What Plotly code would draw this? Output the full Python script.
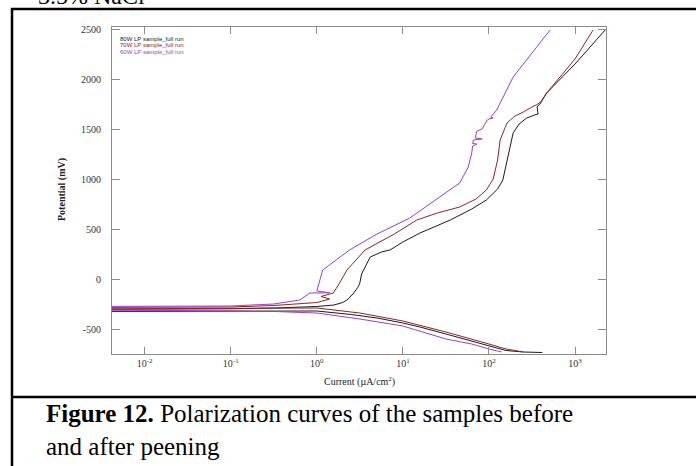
import plotly.graph_objects as go

# ---------------- data (current in uA/cm2, potential in mV) ----------------
series_names = ["80W LP sample_full run", "70W LP sample_full run", "60W LP sample_full run"]
series_colors = ["#1a1a1a", "#8e2424", "#9b3fc4"]

# 80W LP : cathodic branch (right -> left) then anodic branch (left -> right/up)
i80 = [417, 251, 158, 100, 63.1, 31.6, 15.8, 10.0, 5.01, 2.51, 1.0, 0.316, 0.1, 0.01, 0.001,
       0.001, 0.01, 0.1, 0.316, 1.0, 1.58, 2.0, 2.24, 2.63, 3.02, 3.16, 3.31, 3.55, 4.17, 5.62,
       7.08, 10.0, 15.8, 35.5, 63.1, 93.3, 126, 145, 162, 178, 191, 224, 275, 339, 372, 363,
       398, 468, 1000, 2240]
e80 = [-735, -730, -715, -670, -620, -550, -480, -440, -390, -355, -320, -322, -323, -325, -325,
       -305, -303, -298, -290, -275, -260, -235, -210, -150, -80, -40, 50, 100, 220, 270,
       290, 370, 460, 590, 700, 790, 900, 990, 1190, 1350, 1460, 1550, 1610, 1640, 1650, 1720,
       1760, 1860, 2150, 2490]

# 70W LP
i70 = [251, 158, 100, 63.1, 31.6, 10.0, 3.16, 1.0, 0.316, 0.1, 0.01, 0.001,
       0.001, 0.01, 0.1, 0.316, 1.0, 1.41, 1.12, 1.55, 1.78, 2.24, 2.82, 3.63, 7.94, 14.5,
       25.1, 45.7, 70.8, 93.3, 112, 126, 135, 162, 200, 251, 316, 363, 398, 468, 1000, 1620]
e70 = [-730, -700, -650, -600, -530, -420, -340, -290, -292, -295, -298, -300,
       -285, -283, -280, -265, -235, -200, -175, -140, -60, 90, 190, 290, 450, 590,
       660, 720, 800, 890, 1000, 1190, 1390, 1560, 1630, 1670, 1720, 1745, 1770, 1860, 2200, 2490]

# 60W LP
i60 = [141, 100, 63.1, 31.6, 10.0, 3.16, 1.0, 0.316, 0.1, 0.01, 0.001,
       0.001, 0.01, 0.1, 0.316, 0.631, 0.832, 1.41, 1.0, 1.17, 2.40, 5.01, 12.0, 22.4, 45.7,
       57.5, 63.1, 64.6, 72.4, 64.6, 66.1, 83.2, 69.2, 72.4, 83.2, 95.5, 100, 112, 105, 123,
       191, 513]
e60 = [-730, -700, -650, -600, -470, -400, -340, -325, -318, -312, -310,
       -275, -273, -270, -250, -210, -140, -138, -120, 90, 290, 450, 610, 770, 960,
       1120, 1260, 1330, 1350, 1355, 1390, 1400, 1410, 1480, 1500, 1590, 1600, 1610, 1620, 1690,
       2020, 2490]

currents = [i80, i70, i60]
potentials = [e80, e70, e60]

y_tickvals = [-500, 0, 500, 1000, 1500, 2000, 2500]
y_ticktext = ["-500", "0", "500", "1000", "1500", "2000", "2500"]
x_tickvals = [0.01, 0.1, 1, 10, 100, 1000]
x_ticktext = ["10<sup>-2</sup>", "10<sup>-1</sup>", "10<sup>0</sup>", "10<sup>1</sup>",
              "10<sup>2</sup>", "10<sup>3</sup>"]

x_title = "Current (\u00b5A/cm<sup>2</sup>)"
y_title = "Potential (mV)"
caption = "<b>Figure 12.</b> Polarization curves of the samples before<br>and after peening"
top_text = "3.5% NaCl"

# ---------------- figure ----------------
W, H = 696, 466
L, R, T, B = 112, 90, 27, 112
pw, ph = W - L - R, H - T - B


def px(x):
    return (x - L) / pw


def py(y):
    return (H - B - y) / ph


fig = go.Figure()
for name, col, xs, ys in zip(series_names, series_colors, currents, potentials):
    fig.add_trace(go.Scatter(x=xs, y=ys, mode="lines", name=name,
                             line=dict(color=col, width=1), showlegend=False))

axis_col = "#8c8c8c"
tick_font = dict(family="Liberation Serif", size=10, color="#333333")
fig.update_xaxes(type="log", range=[-2.38, 3.36], tickvals=x_tickvals, ticktext=x_ticktext,
                 showline=True, linecolor=axis_col, linewidth=1, mirror="ticks",
                 ticks="inside", ticklen=7, tickcolor=axis_col, showgrid=False, zeroline=False,
                 tickfont=tick_font)
fig.update_yaxes(range=[-750, 2520], tickvals=y_tickvals, ticktext=y_ticktext,
                 showline=True, linecolor=axis_col, linewidth=1, mirror="ticks",
                 ticks="inside", ticklen=8, tickcolor=axis_col, showgrid=False, zeroline=False,
                 tickfont=tick_font, ticklabelstandoff=8)

ann = []
# legend texts
for k, (name, col) in enumerate(zip(series_names, series_colors)):
    ann.append(dict(x=px(118), y=py(39 + 6.5 * k), xref="paper", yref="paper", text=name,
                    showarrow=False, xanchor="left", yanchor="middle",
                    font=dict(family="Liberation Sans", size=6, color=col)))
ann.append(dict(x=px(359), y=py(381), xref="paper", yref="paper", text=x_title, showarrow=False,
                xanchor="center", yanchor="middle",
                font=dict(family="Liberation Serif", size=10, color="#222222")))
ann.append(dict(x=px(62), y=py(190), xref="paper", yref="paper", text="<b>" + y_title + "</b>",
                showarrow=False, textangle=-90, xanchor="center", yanchor="middle",
                font=dict(family="Liberation Serif", size=10, color="#222222")))
ann.append(dict(x=px(44), y=py(430), xref="paper", yref="paper", text=caption, showarrow=False,
                xanchor="left", yanchor="middle", align="left",
                font=dict(family="Liberation Serif", size=25, color="#000000")))
ann.append(dict(x=px(36), y=py(-4), xref="paper", yref="paper", text=top_text, showarrow=False,
                xanchor="left", yanchor="middle",
                font=dict(family="Liberation Serif", size=24, color="#000000")))

shapes = [
    dict(type="rect", xref="paper", yref="paper", x0=px(12), x1=px(720), y0=py(480), y1=py(9),
         line=dict(color="black", width=2.5)),
    dict(type="line", xref="paper", yref="paper", x0=px(12), x1=px(720), y0=py(397), y1=py(397),
         line=dict(color="black", width=2.5)),
]

fig.update_layout(width=W, height=H, margin=dict(l=L, r=R, t=T, b=B),
                  paper_bgcolor="white", plot_bgcolor="white",
                  annotations=ann, shapes=shapes)

fig.write_html("out.html", config={"displayModeBar": False},
               post_script="document.body.style.margin='0';")
